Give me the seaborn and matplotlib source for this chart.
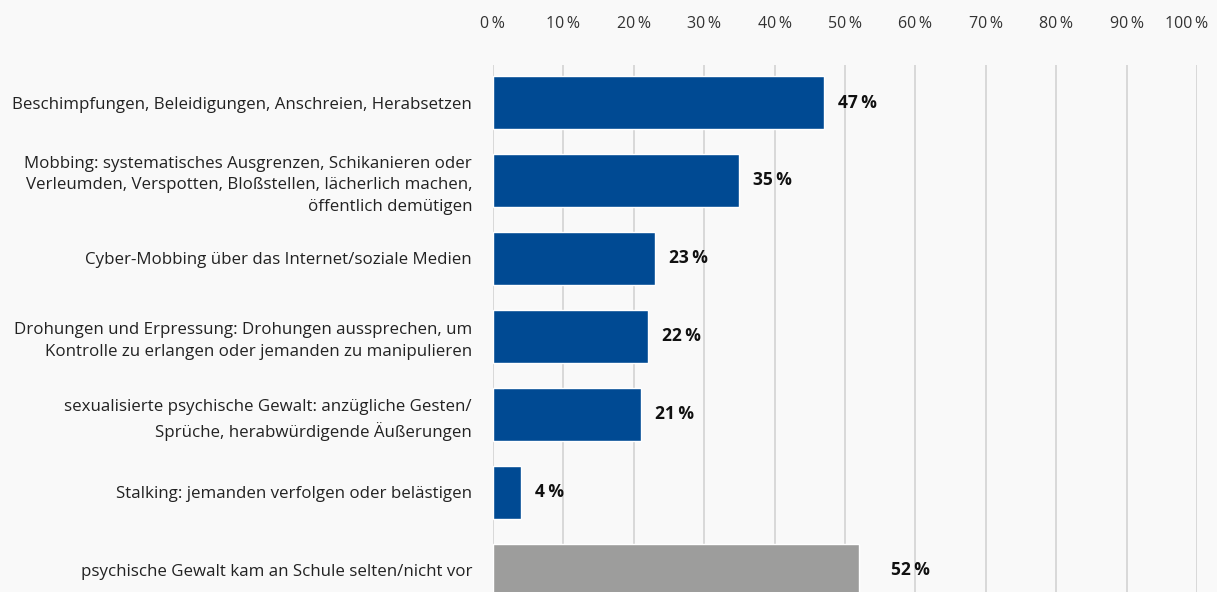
import numpy as np
import pandas as pd
import seaborn as sns
import matplotlib.pyplot as plt
import matplotlib.transforms as mtransforms

# Daten
kategorien = [
    "Beschimpfungen, Beleidigungen, Anschreien, Herabsetzen",
    "Mobbing: systematisches Ausgrenzen, Schikanieren oder\nVerleumden, Verspotten, Bloßstellen, lächerlich machen,\nöffentlich demütigen",
    "Cyber-Mobbing über das Internet/soziale Medien",
    "Drohungen und Erpressung: Drohungen aussprechen, um\nKontrolle zu erlangen oder jemanden zu manipulieren",
    "sexualisierte psychische Gewalt: anzügliche Gesten/\nSprüche, herabwürdigende Äußerungen",
    "Stalking: jemanden verfolgen oder belästigen",
    "psychische Gewalt kam an Schule selten/nicht vor",
]
werte = [47, 35, 23, 22, 21, 4, 52]
farben = ["#004a93"] * 6 + ["#9d9d9c"]
x_ticks = list(range(0, 101, 10))

df = pd.DataFrame({"kategorie": kategorien, "wert": werte})

sns.set_theme(style="white")
plt.rcParams["font.family"] = ["Open Sans", "DejaVu Sans"]

fig = plt.figure(figsize=(12.17, 5.92), dpi=100, facecolor="#f9f9f9")
ax = fig.add_axes([0.405, 0.0, 0.5786, 0.89])
ax.set_facecolor("#f9f9f9")

sns.barplot(data=df, y="kategorie", x="wert", hue="kategorie", palette=farben,
            legend=False, width=0.68, saturation=1, ax=ax, zorder=3)

# vertikale Gitterlinien
for t in x_ticks:
    ax.axvline(t, color="#d6d6d6", lw=1.3, zorder=1)

# Werte-Beschriftung
for i, v in enumerate(werte):
    off = 4.6 if i == len(werte) - 1 else 2.0
    ax.text(v + off, i, f"{v}\u2009%", va="center", ha="left", fontsize=12.5,
            fontweight="bold", color="#111111", family=["Open Sans", "DejaVu Sans"])

ax.set_xlim(0, 100)
ax.set_ylim(6.28, -0.48)
ax.set_xticks(x_ticks)
ax.set_xticklabels([f"{t}\u2009%" for t in x_ticks])
ax.xaxis.tick_top()
ax.tick_params(axis="x", length=0, pad=24, labelsize=11.5, labelcolor="#333333")
ax.tick_params(axis="y", length=0, pad=15, labelsize=12.2, labelcolor="#222222")
for lbl in ax.get_yticklabels():
    lbl.set_linespacing(1.45)
    lbl.set_horizontalalignment("right")

# letztes Tick-Label etwas nach links, damit es nicht am Rand klebt
last = ax.get_xticklabels()[-1]
last.set_transform(last.get_transform() +
                   mtransforms.ScaledTranslation(-10 / 100, 0, fig.dpi_scale_trans))

ax.set_xlabel("")
ax.set_ylabel("")
for s in ax.spines.values():
    s.set_visible(False)

fig.savefig("out.png", dpi=100, facecolor=fig.get_facecolor())
